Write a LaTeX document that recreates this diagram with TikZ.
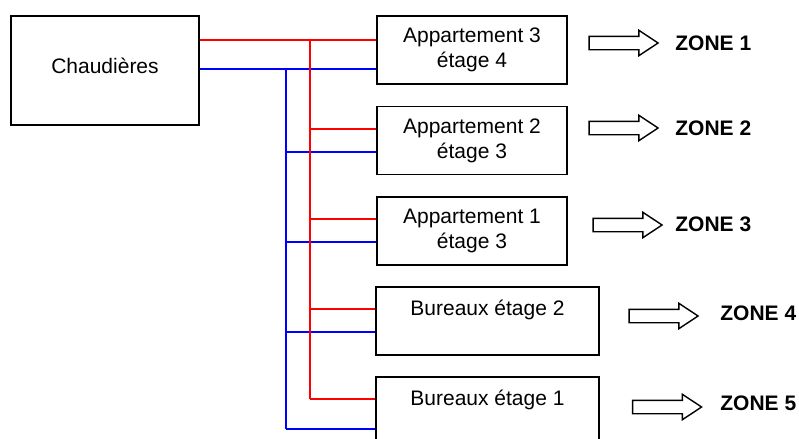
\documentclass[tikz,border=0pt]{standalone}
\usepackage{fontspec}
\setmainfont{Liberation Sans}
\usetikzlibrary{%
    calc,
    positioning,
    shapes.arrows
}
\tikzset{
    unitbox/.style = {draw, line width=.8pt, minimum width=95pt, minimum height=34pt, inner sep=0pt,
                      font=\fontsize{10.5}{12.5}\selectfont, align=center},
    boxtext/.style = {font=\fontsize{10.5}{12.5}\selectfont, inner sep=0pt},
    zonearrow/.style = {draw, single arrow, line width=.7pt, inner xsep=0pt, inner ysep=3pt,
                        single arrow head extend=3pt, single arrow tip angle=67,
                        minimum height=34.5pt},
    zonelabel/.style = {font=\fontsize{10.5}{12.5}\selectfont\bfseries, anchor=west, inner sep=0pt},
    hotpipe/.style = {red, line width=.9pt},
    coldpipe/.style = {blue, line width=.9pt}
}

\begin{document}
\begin{tikzpicture}[x=.5pt,y=-.5pt]
    \clip (0,0) rectangle (799,439);
    \useasboundingbox (0,0) rectangle (799,439);

    \node[unitbox, minimum width=94pt, minimum height=54.5pt] (chaud) at (105,70.5) {};
    \node[boxtext] at (105,66) {Chaudières};

    \node[unitbox] (b1) at (472,50)    {Appartement 3\\étage 4};
    \node[unitbox] (b2) at (472,140.5) {Appartement 2\\étage 3};
    \node[unitbox] (b3) at (472,231)   {Appartement 1\\étage 3};
    \node[unitbox, minimum width=111.5pt] (b4) at (487.5,320.7) {};
    \node[unitbox, minimum width=111.5pt] (b5) at (487.5,410.8) {};
    \node[boxtext] at (487.5,310) {Bureaux étage 2};
    \node[boxtext] at (487.5,400) {Bureaux étage 1};

    % risers
    \coordinate (hot) at (310,40);
    \coordinate (cold) at (286,69);

    \draw[coldpipe] (chaud.east |- cold) -- (b1.west |- cold);
    \draw[coldpipe] (cold) -- (cold |- 0,429);
    \foreach \b/\c in {b2/152, b3/242, b4/332, b5/429}
        \draw[coldpipe] (cold |- 0,\c) -- (\b.west |- 0,\c);

    \draw[hotpipe] (chaud.east |- hot) -- (b1.west |- hot);
    \draw[hotpipe] (hot) -- (hot |- 0,399);
    \foreach \b/\r in {b2/129, b3/219, b4/309, b5/399}
        \draw[hotpipe] (hot |- 0,\r) -- (\b.west |- 0,\r);

    % zones
    \node[zonearrow] (a1) at (618.5,43)  {};
    \node[zonearrow] (a2) at (618.5,128) {};
    \node[zonearrow] (a3) at (622.5,225) {};
    \node[zonearrow] (a4) at (658.5,316) {};
    \node[zonearrow] (a5) at (662,407)   {};

    \node[zonelabel] (z1) at (675,43)  {ZONE 1};
    \node[zonelabel] (z2) at (675,128) {ZONE 2};
    \node[zonelabel] (z3) at (675,224) {ZONE 3};
    \node[zonelabel] (z4) at (720,313) {ZONE 4};
    \node[zonelabel] (z5) at (720,403) {ZONE 5};
\end{tikzpicture}
\end{document}
